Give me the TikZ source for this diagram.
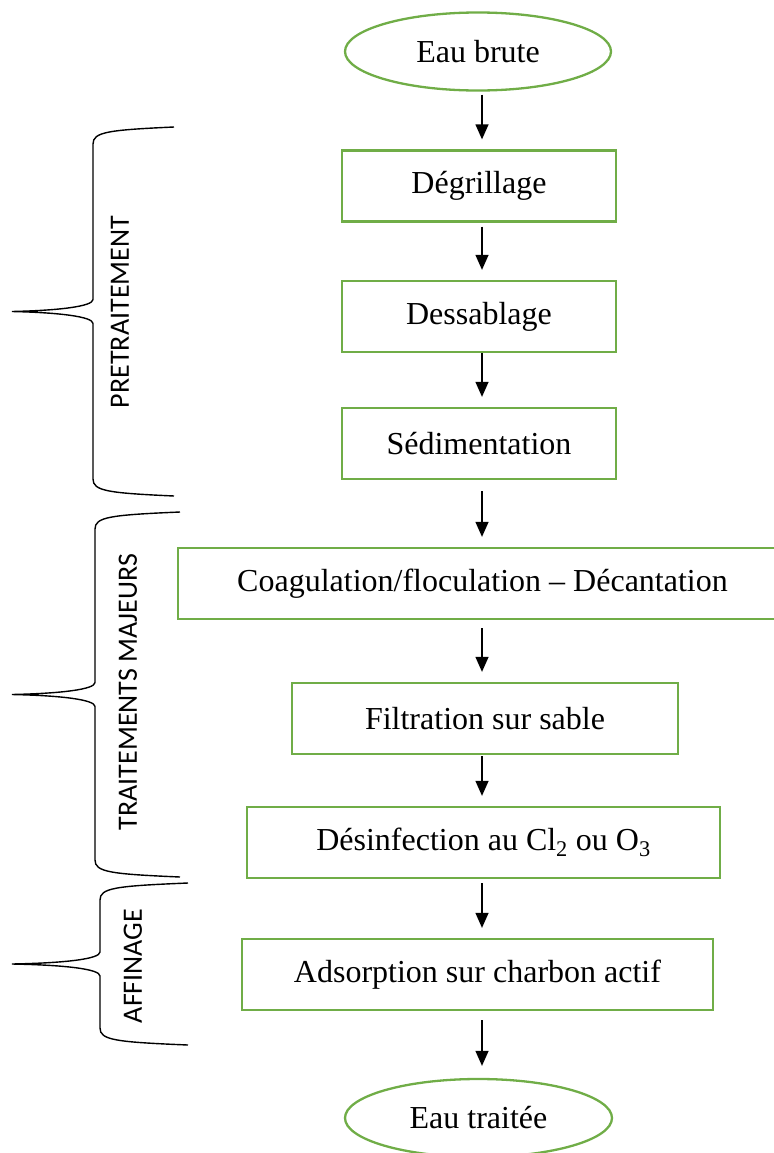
\documentclass[tikz,border=0pt]{standalone}
\usepackage{fontspec}
\setmainfont{Liberation Serif}
\newfontfamily\calibri{Carlito}
\usetikzlibrary{shapes.geometric}
\usetikzlibrary{arrows.meta}
\definecolor{vertbord}{HTML}{70AD47}
\tikzset{every picture/.style={x=1bp, y=-1bp, >={Triangle[width=13bp,length=15bp]}}}
\tikzset{etape/.style={rectangle, draw=vertbord, line width=2.3bp, inner sep=0pt,
  minimum height=71bp, font=\fontsize{32bp}{38bp}\selectfont}}
\tikzset{extremite/.style={ellipse, draw=vertbord, line width=2.3bp, inner sep=0pt,
  minimum width=266bp, minimum height=78bp, font=\fontsize{32bp}{38bp}\selectfont}}
\tikzset{flux/.style={->, line width=1.3bp, shorten >=10bp}}
\tikzset{accol/.style={line width=1.4bp}}
\tikzset{phase/.style={rotate=90, inner sep=0pt, font=\calibri\fontsize{28bp}{34bp}\selectfont}}
% accolade : #1 haut, #2 bas, #3 x des pointes, #4 x du dos
\newcommand{\accolade}[4]{
	\pgfmathsetmacro\mil{(#1+#2)/2}
	\draw[accol] (#3,#1) .. controls (#4+15,#1+3) and (#4,#1+5) .. (#4,#1+17)
		-- (#4,\mil-12) .. controls (#4,\mil-5) and (#4-35,\mil-1) .. (12,\mil)
		.. controls (#4-35,\mil+1) and (#4,\mil+5) .. (#4,\mil+12)
		-- (#4,#2-17) .. controls (#4,#2-5) and (#4+15,#2-3) .. (#3,#2);
}

\begin{document}
\begin{tikzpicture}
	\useasboundingbox (0,0) rectangle (774,1153);
	\coordinate (axe) at (482,0);
	\node[extremite] (brute) at (478,51.5) {Eau brute};
	\node[etape, minimum width=274bp] (degr) at (479,186) {Dégrillage};
	\node[etape, minimum width=274bp] (dess) at (479,316.5) {Dessablage};
	\node[etape, minimum width=274bp] (sedi) at (479,443.5) {Sédimentation};
	\node[etape, minimum width=609bp] (coag) at (482.5,583.5) {Coagulation/floculation -- Décantation};
	\node[etape, minimum width=386bp] (filt) at (485,718.5) {Filtration sur sable};
	\node[etape, minimum width=473bp] (desi) at (483.5,842.5) {Désinfection au Cl\textsubscript{2} ou O\textsubscript{3}};
	\node[etape, minimum width=471bp] (adso) at (477.5,974.5) {Adsorption sur charbon actif};
	\node[extremite, minimum width=267bp] (trait) at (478.5,1118) {Eau traitée};

	\draw[flux, shorten <=3bp] (brute.south -| axe) -- (degr.north -| axe);
	\draw[flux, shorten <=4bp] (degr.south -| axe) -- (dess.north -| axe);
	\draw[flux, shorten <=0bp] (dess.south -| axe) -- (sedi.north -| axe);
	\draw[flux, shorten <=11bp] (sedi.south -| axe) -- (coag.north -| axe);
	\draw[flux, shorten <=8bp] (coag.south -| axe) -- (filt.north -| axe);
	\draw[flux, shorten <=1bp] (filt.south -| axe) -- (desi.north -| axe);
	\draw[flux, shorten <=4bp] (desi.south -| axe) -- (adso.north -| axe);
	\draw[flux, shorten <=9bp, shorten >=12bp] (adso.south -| axe) -- (trait.north -| axe);

	\accolade{127}{496}{174}{93}
	\accolade{512}{877}{180}{95}
	\accolade{883}{1045}{188}{100}
	\node[phase] (pretr) at (120,312) {PRETRAITEMENT};
	\node[phase] (major) at (128,692) {TRAITEMENTS MAJEURS};
	\node[phase] (affin) at (133,966) {AFFINAGE};
\end{tikzpicture}
\end{document}
